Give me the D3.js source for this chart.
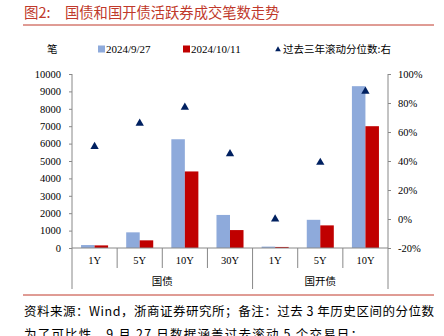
<!DOCTYPE html>
<html><head><meta charset="utf-8">
<script src="https://cdn.jsdelivr.net/npm/d3@7/dist/d3.min.js"></script>
<style>
html,body{margin:0;padding:0;background:#fff;}
svg{display:block;}
</style></head>
<body>
<svg id="chart" width="444" height="336"></svg>
<script>
const categories = ["1Y","5Y","10Y","30Y","1Y","5Y","10Y"];
const groups = [{name:"国债", start:0, end:4},{name:"国开债", start:4, end:7}];
const series = ["2024/9/27","2024/10/11"];
const valuesA = [170, 900, 6250, 1900, 80, 1620, 9300];
const valuesB = [150, 440, 4400, 1030, 60, 1300, 7000];
const percentile = [0.50, 0.66, 0.77, 0.45, 0.00, 0.39, 0.88];
const leftTicks = [0,1000,2000,3000,4000,5000,6000,7000,8000,9000,10000];
const rightTicks = [-0.2,0,0.2,0.4,0.6,0.8,1.0];
const colors = ["#8EAADB","#C00000"];
const triColor = "#002060";

const svg = d3.select("#chart");
const serif = "'Liberation Serif','Times New Roman',serif";
const cjk = "'Noto Sans CJK SC','Noto Sans',sans-serif";

// title
svg.append("text").attr("x",24).attr("y",18).attr("fill","#C0392B")
  .style("font-family",cjk).style("font-size","14.5px").text("图2:");
svg.append("text").attr("x",65).attr("y",18).attr("fill","#C0392B")
  .style("font-family",cjk).style("font-size","14.3px").text("国债和国开债活跃券成交笔数走势");
svg.append("line").attr("x1",23).attr("x2",434).attr("y1",25).attr("y2",25)
  .attr("stroke","#C0392B").attr("stroke-width",1);

// legend
const ly = 49;
svg.append("text").attr("x",47).attr("y",ly+4).style("font-family",cjk).style("font-size","10.5px").text("笔");
svg.append("rect").attr("x",98).attr("y",ly-3.5).attr("width",7).attr("height",7).attr("fill",colors[0]);
svg.append("text").attr("x",106).attr("y",ly+4).style("font-family",serif).style("font-size","11px").text(series[0]);
svg.append("rect").attr("x",183).attr("y",ly-3.5).attr("width",7).attr("height",7).attr("fill",colors[1]);
svg.append("text").attr("x",191).attr("y",ly+4).style("font-family",serif).style("font-size","11px").text(series[1]);
svg.append("path").attr("d",d3.symbol(d3.symbolTriangle,14)()).attr("transform",`translate(278,${ly+0.5})`).attr("fill",triColor);
svg.append("text").attr("x",283).attr("y",ly+4).style("font-family",cjk).style("font-size","10.5px").text("过去三年滚动分位数:右");

// scales
const x0 = 72, x1 = 388, yTop = 74, yBot = 248;
const x = d3.scaleBand().domain(d3.range(categories.length)).range([x0,x1]).padding(0);
const xs = d3.scaleBand().domain(series).range([0,x.bandwidth()]).paddingInner(0).paddingOuter(0.67);
const yL = d3.scaleLinear().domain([0,10000]).range([yBot,yTop]);
const yR = d3.scaleLinear().domain([-0.2,1.0]).range([yBot,yTop]);

// bars
const data = categories.map((c,i)=>({i, vals:[valuesA[i],valuesB[i]]}));
const g = svg.append("g");
data.forEach(d=>{
  d.vals.forEach((v,k)=>{
    g.append("rect").attr("x",x(d.i)+xs(series[k])).attr("width",xs.bandwidth())
      .attr("y",yL(v)).attr("height",yBot-yL(v)).attr("fill",colors[k]);
  });
});

// axes
const axisColor = "#888";
const gl = svg.append("g").attr("transform",`translate(${x0},0)`)
  .call(d3.axisLeft(yL).tickValues(leftTicks).tickSize(3).tickPadding(8).tickFormat(d3.format("d")));
const gr = svg.append("g").attr("transform",`translate(${x1},0)`)
  .call(d3.axisRight(yR).tickValues(rightTicks).tickSize(3).tickPadding(7).tickFormat(d=>Math.round(d*100)+"%"));
[gl,gr].forEach(a=>{
  a.select(".domain").attr("stroke",axisColor).attr("d", a===gl?`M0,${yTop}V${yBot}`:`M0,${yTop}V${yBot}`);
  a.selectAll(".tick line").attr("stroke",axisColor);
  a.selectAll("text").style("font-family",serif).style("font-size","10.5px").attr("fill","#000");
});

// bottom axis
svg.append("line").attr("x1",x0).attr("x2",x1).attr("y1",yBot).attr("y2",yBot).attr("stroke",axisColor);
const bounds = d3.range(categories.length+1).map(i=> i<categories.length ? x(i) : x1);
bounds.forEach((bx,i)=>{
  const isGroup = groups.some(gp=>gp.start===i||gp.end===i);
  svg.append("line").attr("x1",bx).attr("x2",bx).attr("y1",yBot).attr("y2",isGroup?289:268).attr("stroke",axisColor);
});
categories.forEach((c,i)=>{
  svg.append("text").attr("x",x(i)+x.bandwidth()/2).attr("y",264).attr("text-anchor","middle")
    .style("font-family",serif).style("font-size","10.5px").text(c);
});
groups.forEach(gp=>{
  const cx = (bounds[gp.start]+bounds[gp.end])/2;
  svg.append("text").attr("x",cx).attr("y",285).attr("text-anchor","middle")
    .style("font-family",cjk).style("font-size","10.5px").text(gp.name);
});

// triangles
percentile.forEach((p,i)=>{
  svg.append("path").attr("d",d3.symbol(d3.symbolTriangle,30)())
    .attr("transform",`translate(${x(i)+x.bandwidth()/2},${yR(p)})`).attr("fill",triColor);
});

// bottom rule & notes
svg.append("line").attr("x1",23).attr("x2",434).attr("y1",295).attr("y2",295).attr("stroke","#C0392B");
svg.append("text").attr("x",24).attr("y",316).attr("textLength",410).attr("lengthAdjust","spacing")
  .style("font-family",cjk).style("font-size","12.5px")
  .text("资料来源：Wind，浙商证券研究所；备注：过去 3 年历史区间的分位数");
svg.append("text").attr("x",24).attr("y",339)
  .style("font-family",cjk).style("font-size","12.5px").style("letter-spacing","1.2px")
  .text("为了可比性，9 月 27 日数据涵盖过去滚动 5 个交易日；");
</script>
</body></html>
